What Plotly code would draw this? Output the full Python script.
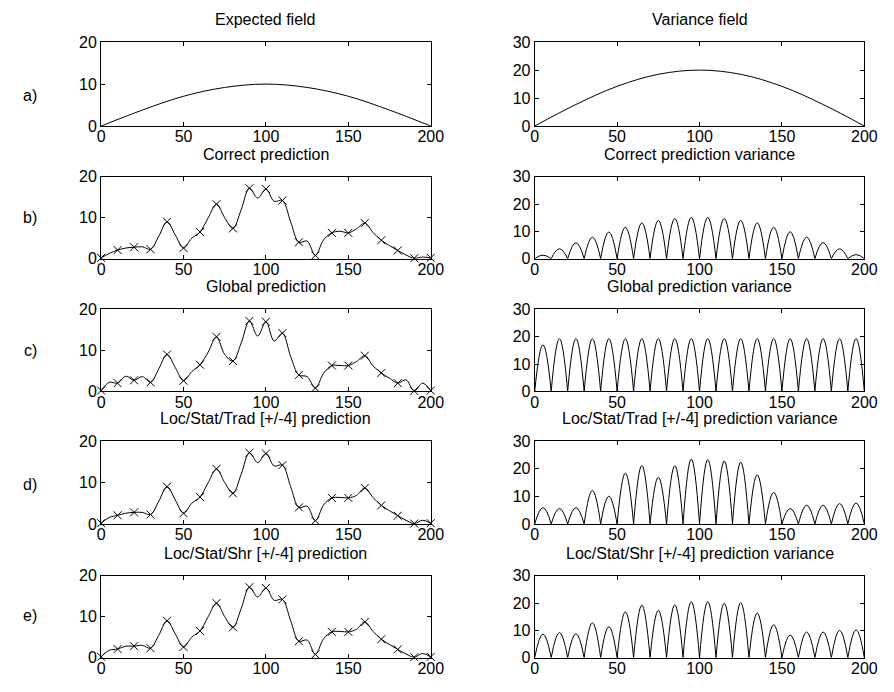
import plotly.graph_objects as go

# ---------------- data ----------------
field_x = [0, 25, 50, 75, 100, 125, 150, 175, 200]
expected_field = [0, 3.8, 7.1, 9.2, 10.0, 9.2, 7.1, 3.8, 0]
variance_field = [0, 7.7, 14.2, 18.5, 20.0, 18.5, 14.2, 7.7, 0]

pred_x = list(range(0, 201, 5))      # 0,5,...,200
sample_x = list(range(0, 201, 10))   # observation locations
mid_x = list(range(5, 200, 10))      # centres between observations

correct_pred = [0.2, 1.3, 2.1, 2.6, 2.8, 2.9, 2.3, 5.5, 9.0, 5.8, 2.6, 5.0, 6.5, 10.0, 13.3, 10.0,
                7.4, 12.0, 17.2, 14.8, 17.0, 14.0, 14.2, 9.0, 4.0, 4.3, 0.8, 4.6, 6.3, 6.7, 6.3,
                7.3, 8.7, 6.4, 4.5, 3.2, 2.0, 0.9, 0.1, 0.4, 0.2]
global_pred = [0.2, 2.2, 2.0, 3.7, 2.7, 3.6, 2.2, 5.5, 9.0, 5.8, 2.6, 4.8, 6.5, 9.6, 13.3, 9.0,
               7.4, 11.8, 17.2, 13.5, 17.0, 12.3, 14.2, 8.5, 4.0, 3.6, 0.8, 4.4, 6.3, 6.3, 6.3,
               7.3, 8.7, 6.2, 4.5, 3.2, 2.0, 2.8, 0.1, 2.0, 0.2]
trad_pred = [0.2, 1.6, 2.1, 2.6, 2.8, 2.8, 2.3, 5.5, 9.0, 5.8, 2.6, 5.0, 6.5, 10.0, 13.3, 10.0,
             7.4, 12.0, 17.2, 14.8, 17.0, 14.0, 14.2, 9.0, 4.0, 4.3, 0.8, 4.6, 6.3, 6.4, 6.3,
             6.9, 8.7, 6.4, 4.5, 3.2, 2.0, 0.9, 0.1, 0.9, 0.2]
shr_pred = [0.2, 1.8, 2.1, 2.8, 2.8, 3.0, 2.3, 5.5, 9.0, 5.8, 2.6, 5.0, 6.5, 10.0, 13.3, 10.0,
            7.4, 12.0, 17.2, 14.8, 17.0, 14.0, 14.2, 9.0, 4.0, 4.3, 0.8, 4.6, 6.3, 6.4, 6.3,
            6.9, 8.7, 6.4, 4.5, 3.2, 2.0, 0.9, 0.1, 1.0, 0.2]

# variance peaks between consecutive observations (variance is 0 at observations)
correct_var_peaks = [1.3, 3.6, 5.8, 7.9, 9.8, 11.5, 13.1, 14.0, 14.7, 15.1,
                     15.1, 14.7, 14.0, 13.1, 11.5, 9.9, 7.9, 5.9, 3.6, 1.5]
global_var_peaks = [17.0, 19.3, 19.3, 19.3, 19.3, 19.3, 19.3, 19.3, 19.3, 19.3,
                    19.3, 19.3, 19.3, 19.3, 19.3, 19.3, 19.3, 19.3, 19.3, 19.3]
trad_var_peaks = [5.9, 5.6, 5.9, 12.1, 10.1, 18.4, 21.2, 16.9, 21.1, 23.5,
                  23.3, 22.8, 22.4, 17.8, 11.4, 5.6, 6.8, 6.8, 7.4, 7.6]
shr_var_peaks = [8.6, 9.2, 8.8, 12.7, 11.3, 16.8, 19.2, 17.3, 19.3, 20.5,
                 20.5, 19.9, 20.1, 16.3, 12.0, 8.3, 9.4, 9.4, 10.0, 10.2]
obs_zero = [0] * len(sample_x)

row_labels = ["a)", "b)", "c)", "d)", "e)"]
left_titles = ["Expected field", "Correct prediction", "Global prediction",
               "Loc/Stat/Trad [+/-4] prediction", "Loc/Stat/Shr [+/-4] prediction"]
right_titles = ["Variance field", "Correct prediction variance", "Global prediction variance",
                "Loc/Stat/Trad [+/-4] prediction variance", "Loc/Stat/Shr [+/-4] prediction variance"]
x_ticks = [0, 50, 100, 150, 200]
left_y_ticks = [0, 10, 20]
right_y_ticks = [0, 10, 20, 30]

# ---------------- layout geometry (pixels) ----------------
W, H = 894, 692
FONT = "Liberation Sans, Arial, Helvetica, sans-serif"
FS = 16
col_px = [(99, 435), (541, 877)]
row_px = [(35, 121), (173, 257), (309, 393), (444, 529), (582, 666)]
label_y_px = [90, 215, 351, 488, 623]


def px_x(v):
    return v / W


def px_y(v):
    return 1 - v / H


def arcs(peaks):
    xs, ys = [], []
    for i, h in enumerate(peaks):
        xs += [sample_x[i], mid_x[i], sample_x[i + 1], None]
        ys += [obs_zero[i], h, obs_zero[i + 1], None]
    return xs, ys


fig = go.Figure()
layout = dict(width=W, height=H, margin=dict(l=0, r=0, t=0, b=0),
              paper_bgcolor="white", plot_bgcolor="white", showlegend=False,
              font=dict(family=FONT, size=FS, color="black"))
annotations = []

line_style = dict(color="black", width=1)

left_series = [None, correct_pred, global_pred, trad_pred, shr_pred]
right_series = [None, correct_var_peaks, global_var_peaks, trad_var_peaks, shr_var_peaks]

for r in range(5):
    for c in range(2):
        k = r * 2 + c + 1
        xa = "x" if k == 1 else f"x{k}"
        ya = "y" if k == 1 else f"y{k}"
        xname = "xaxis" if k == 1 else f"xaxis{k}"
        yname = "yaxis" if k == 1 else f"yaxis{k}"
        x0, x1 = col_px[c]
        t, b = row_px[r]
        common = dict(showline=True, linecolor="black", linewidth=1, mirror="ticks",
                      ticks="inside", ticklen=4, tickcolor="black", tickwidth=1,
                      showgrid=False, zeroline=False, fixedrange=True,
                      tickfont=dict(family=FONT, size=FS, color="black"))
        layout[xname] = dict(common, domain=[px_x(x0), px_x(x1)], anchor=ya,
                             range=[0, 200], tickvals=x_ticks, ticktext=[str(v) for v in x_ticks],
                             ticklabelstandoff=-4)
        yt = left_y_ticks if c == 0 else right_y_ticks
        layout[yname] = dict(common, domain=[px_y(b), px_y(t)], anchor=xa,
                             range=[0, yt[-1]], tickvals=yt, ticktext=[str(v) for v in yt])

        if r == 0:
            yv = expected_field if c == 0 else variance_field
            fig.add_trace(go.Scatter(x=field_x, y=yv, mode="lines", xaxis=xa, yaxis=ya,
                                     line=dict(line_style, shape="spline", smoothing=1.0),
                                     hoverinfo="skip"))
        elif c == 0:
            ser = left_series[r]
            fig.add_trace(go.Scatter(x=pred_x, y=ser, mode="lines", xaxis=xa, yaxis=ya,
                                     line=dict(line_style, shape="spline", smoothing=1.0),
                                     hoverinfo="skip"))
            fig.add_trace(go.Scatter(x=pred_x[::2], y=ser[::2], mode="markers", xaxis=xa, yaxis=ya,
                                     marker=dict(symbol="x-thin", size=8, color="black",
                                                 line=dict(color="black", width=1)),
                                     cliponaxis=False, hoverinfo="skip"))
        else:
            ax_, ay_ = arcs(right_series[r])
            fig.add_trace(go.Scatter(x=ax_, y=ay_, mode="lines", xaxis=xa, yaxis=ya,
                                     connectgaps=False,
                                     line=dict(line_style, shape="spline", smoothing=1.3),
                                     hoverinfo="skip"))

        title = left_titles[r] if c == 0 else right_titles[r]
        annotations.append(dict(text=title, x=px_x((x0 + x1) / 2), y=px_y(t), xref="paper",
                                yref="paper", xanchor="center", yanchor="bottom", yshift=12,
                                showarrow=False, font=dict(family=FONT, size=FS, color="black")))
    annotations.append(dict(text=row_labels[r], x=px_x(27), y=px_y(label_y_px[r]), xref="paper",
                            yref="paper", xanchor="center", yanchor="middle", showarrow=False,
                            font=dict(family=FONT, size=FS, color="black")))

layout["annotations"] = annotations
fig.update_layout(**layout)
fig.write_html("out.html")
